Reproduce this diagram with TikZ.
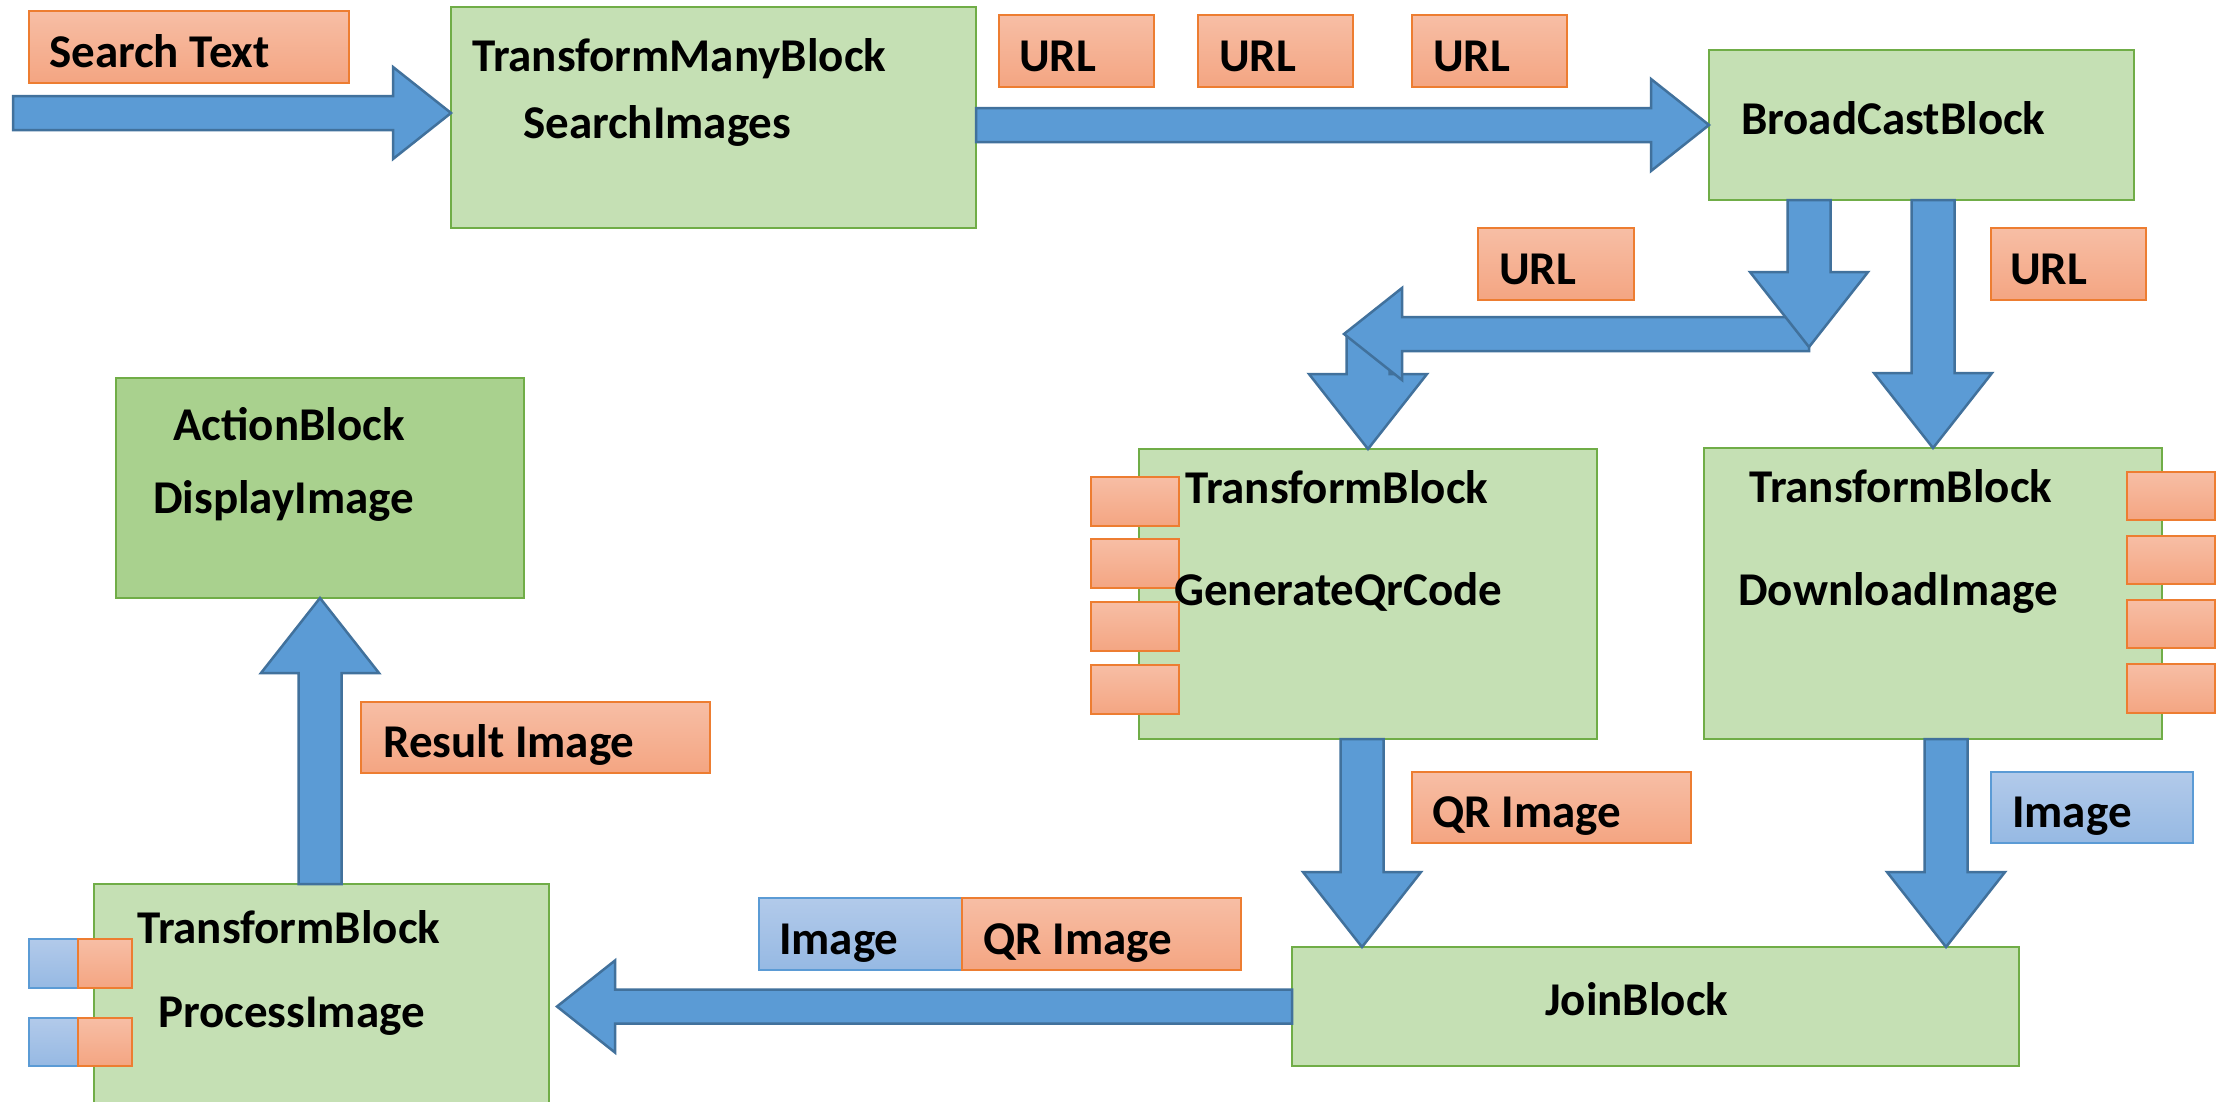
\documentclass[tikz,border=0pt]{standalone}
\usepackage{fontspec}
\setmainfont{Carlito}
\usetikzlibrary{calc}

\definecolor{blockfill}{HTML}{C5E0B4}
\definecolor{blockline}{HTML}{70AD47}
\definecolor{actionfill}{HTML}{A9D18E}
\definecolor{arrowfill}{HTML}{5B9BD5}
\definecolor{arrowline}{HTML}{41719C}
\definecolor{orangetop}{HTML}{F7BEA5}
\definecolor{orangebot}{HTML}{F4A582}
\definecolor{orangeline}{HTML}{ED7D31}
\definecolor{bluetop}{HTML}{B2CAEA}
\definecolor{bluebot}{HTML}{96B9E3}
\definecolor{blueline}{HTML}{5B9BD5}

\tikzset{
  block/.style={draw=blockline, fill=blockfill, line width=2pt, inner sep=0pt, outer sep=0pt},
  actionblock/.style={block, fill=actionfill},
  msgorange/.style={draw=orangeline, line width=2pt, top color=orangetop, bottom color=orangebot, inner sep=0pt, outer sep=0pt},
  msgblue/.style={draw=blueline, line width=2pt, top color=bluetop, bottom color=bluebot, inner sep=0pt, outer sep=0pt},
  txt/.style={anchor=base west, inner sep=0pt, font=\fontsize{47}{56}\selectfont\bfseries},
  flow/.style={fill=arrowfill, draw=arrowline, line width=2.5pt, line join=miter},
}

% rectangle node given by its corners: style, name, x1, y1, x2, y2
\newcommand\rectnode[6]{%
  \node[#1, anchor=north west, minimum width={(#5-#3)*1pt}, minimum height={(#6-#4)*1pt}] (#2) at (#3,#4) {};}

% block arrow: tail, tip, shaft half-width, head half-width, head length
\newcommand\flowarrow[5]{%
  \coordinate (fa-t) at #1;
  \coordinate (fa-p) at #2;
  \coordinate (fa-h) at ($(fa-p)!#5!(fa-t)$);
  \filldraw[flow]
    ($(fa-t)!#3!-90:(fa-p)$) -- ($(fa-h)!#3!-90:(fa-p)$) -- ($(fa-h)!#4!-90:(fa-p)$) -- (fa-p)
    -- ($(fa-h)!#4!90:(fa-p)$) -- ($(fa-h)!#3!90:(fa-p)$) -- ($(fa-t)!#3!90:(fa-p)$) -- cycle;}
\newcommand\hflow[2]{\flowarrow{#1}{#2}{17pt}{46pt}{58pt}}
\newcommand\vflow[2]{\flowarrow{#1}{#2}{21.5pt}{59pt}{75pt}}

\begin{document}
\begin{tikzpicture}[x=1pt, y=-1pt]
\fill[white] (0,0) rectangle (2229,1101);
\useasboundingbox (0,0) rectangle (2229,1101);

% dataflow blocks
\rectnode{block}{tmb}{451}{7}{976}{228}
\rectnode{block}{bcb}{1709}{50}{2134}{200}
\rectnode{block}{gqr}{1139}{449}{1597}{739}
\rectnode{block}{dli}{1704}{448}{2162}{739}
\rectnode{block}{join}{1292}{947}{2019}{1066}
\rectnode{block}{proc}{94}{884}{549}{1125}
\rectnode{actionblock}{act}{116}{378}{524}{598}

% input buffers of the transform blocks
\rectnode{msgorange}{gq1}{1091}{477}{1179}{526}
\rectnode{msgorange}{gq2}{1091}{539}{1179}{588}
\rectnode{msgorange}{gq3}{1091}{602}{1179}{651}
\rectnode{msgorange}{gq4}{1091}{665}{1179}{714}
\rectnode{msgorange}{dl1}{2127}{472}{2215}{520}
\rectnode{msgorange}{dl2}{2127}{536}{2215}{584}
\rectnode{msgorange}{dl3}{2127}{600}{2215}{648}
\rectnode{msgorange}{dl4}{2127}{664}{2215}{713}
\rectnode{msgblue}{pb1}{29}{939}{78}{988}
\rectnode{msgorange}{po1}{78}{939}{132}{988}
\rectnode{msgblue}{pb2}{29}{1018}{78}{1066}
\rectnode{msgorange}{po2}{78}{1018}{132}{1066}

% message labels
\rectnode{msgorange}{mSearch}{29}{11}{349}{83}
\rectnode{msgorange}{mUrlA}{999}{15}{1154}{87}
\rectnode{msgorange}{mUrlB}{1198}{15}{1353}{87}
\rectnode{msgorange}{mUrlC}{1412}{15}{1567}{87}
\rectnode{msgorange}{mUrlD}{1478}{228}{1634}{300}
\rectnode{msgorange}{mUrlE}{1991}{228}{2146}{300}
\rectnode{msgorange}{mQr}{1412}{772}{1691}{843}
\rectnode{msgblue}{mImg}{1991}{772}{2193}{843}
\rectnode{msgorange}{mResult}{361}{702}{710}{773}
\rectnode{msgblue}{mPairImg}{759}{898}{962}{970}
\rectnode{msgorange}{mPairQr}{962}{898}{1241}{970}

% block texts
\node[txt] (tTmb1) at (472,71) {TransformManyBlock};
\node[txt] (tTmb2) at (523,138) {SearchImages};
\node[txt] (tBcb) at (1741,134) {BroadCastBlock};
\node[txt] (tGqr1) at (1185,503) {TransformBlock};
\node[txt] (tGqr2) at (1174,605) {GenerateQrCode};
\node[txt] (tDli1) at (1749,502) {TransformBlock};
\node[txt] (tDli2) at (1738,605) {DownloadImage};
\node[txt] (tJoin) at (1545,1015) {JoinBlock};
\node[txt] (tProc1) at (137,943) {TransformBlock};
\node[txt] (tProc2) at (158,1027) {ProcessImage};
\node[txt] (tAct1) at (173,440) {ActionBlock};
\node[txt] (tAct2) at (153,513) {DisplayImage};

% label texts
\node[txt] (lSearch) at (49,67) {Search Text};
\node[txt] (lUrlA) at (1019,71) {URL};
\node[txt] (lUrlB) at (1219,71) {URL};
\node[txt] (lUrlC) at (1433,71) {URL};
\node[txt] (lUrlD) at (1499,284) {URL};
\node[txt] (lUrlE) at (2010,284) {URL};
\node[txt] (lQr) at (1432,827) {QR Image};
\node[txt] (lImg) at (2012,827) {Image};
\node[txt] (lResult) at (383,757) {Result Image};
\node[txt] (lPairImg) at (779,954) {Image};
\node[txt] (lPairQr) at (983,954) {QR Image};

% arrow end points
\coordinate (src) at (13,113);
\coordinate (fork) at (1809,347);
\coordinate (bend) at (1344,334);
\coordinate (qrout) at (1362,739);
\coordinate (imgout) at (1946,739);

% flow arrows
\hflow{(src)}{(tmb.west |- src)}
\hflow{(tmb.east |- bcb.west)}{(bcb.west)}
\vflow{(gqr.north |- bend)}{(gqr.north)}
\hflow{(fork |- bend)}{(bend)}
\vflow{(fork |- bcb.south)}{(fork)}
\vflow{(dli.north |- bcb.south)}{(dli.north)}
\vflow{(qrout)}{(qrout |- join.north)}
\vflow{(imgout)}{(imgout |- join.north)}
\hflow{(join.west)}{($(join.west -| proc.east)+(8,0)$)}
\vflow{(act.south |- proc.north)}{(act.south)}
\end{tikzpicture}
\end{document}
